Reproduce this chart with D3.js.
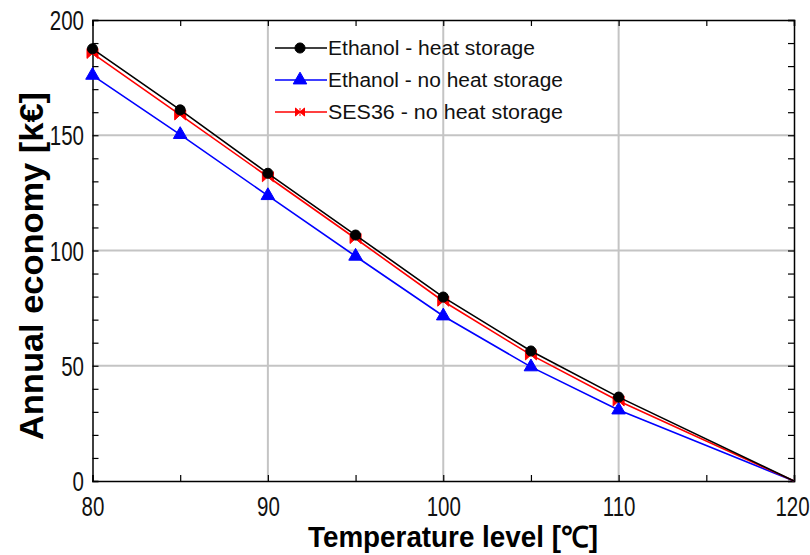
<!DOCTYPE html>
<html><head><meta charset="utf-8">
<script src="https://cdn.jsdelivr.net/npm/d3@7/dist/d3.min.js"></script>
<style>
body{margin:0;background:#fff;}
svg{display:block;}
</style></head>
<body>
<svg id="chart" width="810" height="555"></svg>
<script>
const temperatures = [80, 85, 90, 95, 100, 105, 110, 120];
const ethanolHeatStorage = [187.5, 161, 133.5, 106.7, 79.8, 56.4, 36.4, 0];
const ethanolNoHeatStorage = [176, 150.3, 123.8, 97.5, 71.6, 49.5, 30.8, 0];
const ses36NoHeatStorage = [185.5, 158.8, 132, 105.2, 78, 54.7, 34.7, 0];
const seriesNames = ["Ethanol - heat storage", "Ethanol - no heat storage", "SES36 - no heat storage"];
const xTicks = [80, 90, 100, 110, 120];
const yTicks = [0, 50, 100, 150, 200];

const svg = d3.select("#chart");
const L = 92.5, R = 794, T = 20, B = 481;
const x = d3.scaleLinear().domain([80, 120]).range([L, R]);
const y = d3.scaleLinear().domain([0, 200]).range([B, T]);
const FONT = "'Liberation Sans',Arial,sans-serif";

// grid
const g = svg.append("g");
g.selectAll(".gx").data(xTicks.slice(1, -1)).enter().append("line")
  .attr("x1", d => x(d)).attr("x2", d => x(d)).attr("y1", T).attr("y2", B)
  .attr("stroke", "#c4c4c4").attr("stroke-width", 2);
g.selectAll(".gy").data(yTicks.slice(1, -1)).enter().append("line")
  .attr("y1", d => y(d)).attr("y2", d => y(d)).attr("x1", L).attr("x2", R)
  .attr("stroke", "#c4c4c4").attr("stroke-width", 2);

// axes (ticks inward)
const fmt = d3.format("d");
const ax = (gen, tr) => svg.append("g").attr("transform", tr).call(gen);
const xb = ax(d3.axisBottom(x).tickValues(d3.range(80, 121, 5)).tickSize(-6).tickFormat(d => xTicks.includes(d) ? fmt(d) : ""), `translate(0,${B})`);
const xt = ax(d3.axisTop(x).tickValues(d3.range(80, 121, 5)).tickSize(-6).tickFormat(""), `translate(0,${T})`);
const yl = ax(d3.axisLeft(y).tickValues(d3.range(0, 201, 10)).tickSize(-6).tickFormat(d => yTicks.includes(d) ? fmt(d) : ""), `translate(${L},0)`);
const yr = ax(d3.axisRight(y).tickValues(d3.range(0, 201, 10)).tickSize(-6).tickFormat(""), `translate(${R},0)`);
[xb, xt, yl, yr].forEach(a => {
  a.select(".domain").attr("stroke", "#000").attr("stroke-width", 1.5);
  a.selectAll(".tick line").attr("stroke", "#000").attr("stroke-width", 1.2);
  a.selectAll("text").attr("fill", "#111").attr("font-family", FONT).attr("font-size", 27);
});
xb.selectAll("text").attr("y", 0).attr("dy", 0)
  .attr("transform", d => `translate(${d === 120 ? -2 : 0},35) scale(0.76,1)`);
yl.selectAll("text").attr("x", 0).attr("dy", "0.36em")
  .attr("transform", "translate(-8.5,0) scale(0.76,1)");

// markers
const circle = d3.symbol().type(d3.symbolCircle).size(80);
const tri = d3.symbol().type(d3.symbolTriangle).size(80);
const bowtie = "M-5.5,-5L0,0L-5.5,5Z M5.5,-5L0,0L5.5,5Z";
const bowtieSmall = "M-4.5,-4L0,0L-4.5,4Z M4.5,-4L0,0L4.5,4Z M0,-4L0,4";
const series = [
  {name: seriesNames[1], vals: ethanolNoHeatStorage, color: "#0000ff", marker: tri(), lm: tri()},
  {name: seriesNames[2], vals: ses36NoHeatStorage, color: "#ff0000", marker: bowtie, lm: bowtieSmall},
  {name: seriesNames[0], vals: ethanolHeatStorage, color: "#000000", marker: circle(), lm: circle()}
];
const line = d3.line().x(d => x(d[0])).y(d => y(d[1]));
series.forEach(s => {
  const pts = temperatures.map((t, i) => [t, s.vals[i]]);
  svg.append("path").attr("d", line(pts)).attr("fill", "none").attr("stroke", s.color).attr("stroke-width", 1.6);
  svg.selectAll(null).data(pts.filter(p => p[0] < 120)).enter().append("path")
    .attr("d", s.marker).attr("transform", p => `translate(${x(p[0])},${y(p[1])})`)
    .attr("fill", s.color).attr("stroke", s.color).attr("stroke-width", 1);
});

// legend
const leg = svg.append("g");
const legLen = [207, 235, 235];
[series[2], series[0], series[1]].forEach((s, i) => {
  const yy = [48, 80, 112][i];
  leg.append("line").attr("x1", 275).attr("x2", 327).attr("y1", yy).attr("y2", yy).attr("stroke", s.color).attr("stroke-width", 1.6);
  leg.append("path").attr("d", s.lm).attr("transform", `translate(300,${yy})`).attr("fill", s.color).attr("stroke", s.color);
  leg.append("text").attr("x", 328).attr("y", yy).attr("dy", "0.36em").text(s.name)
    .attr("textLength", legLen[i]).attr("lengthAdjust", "spacingAndGlyphs")
    .style("font-family", FONT).style("font-size", "20px").attr("fill", "#111");
});

// axis titles
svg.append("text").attr("x", 308).attr("y", 547)
  .attr("textLength", 290).attr("lengthAdjust", "spacingAndGlyphs")
  .style("font-family", FONT).style("font-weight", "bold").style("font-size", "29px")
  .text("Temperature level [℃]");
svg.append("text").attr("transform", "translate(43,440) rotate(-90)")
  .attr("textLength", 348).attr("lengthAdjust", "spacingAndGlyphs")
  .style("font-family", FONT).style("font-weight", "bold").style("font-size", "33px")
  .text("Annual economy [k€]");
</script>
</body></html>
